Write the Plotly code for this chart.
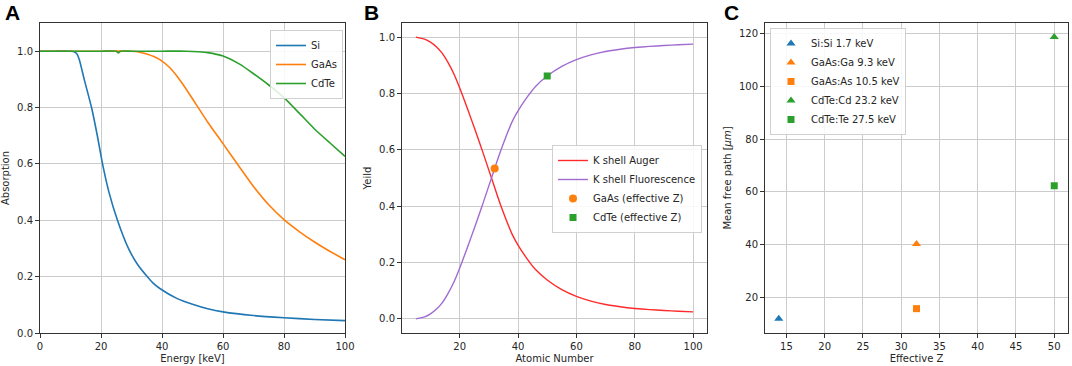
import plotly.graph_objects as go

# ---------------- Panel A: absorption vs energy ----------------
energy_si = [0, 5, 10, 11, 12, 12.9, 14.5, 16.9, 18.8, 20.5, 22.6, 25.4, 29, 32, 35, 37, 39.3, 45, 50, 55,
             60, 70, 80, 90, 100]
absorb_si = [1.0, 1.0, 1.0, 0.999, 0.992, 0.97, 0.9, 0.8, 0.7, 0.6, 0.5, 0.4, 0.3, 0.243, 0.202, 0.178,
             0.158, 0.122, 0.102, 0.086, 0.075, 0.062, 0.054, 0.048, 0.044]

energy_gaas = [0, 10, 20, 30, 32, 35, 37.5, 40, 42.5, 45, 47.5, 50, 55, 60, 65, 70, 75, 80, 85, 90, 95, 100]
absorb_gaas = [1.0, 1.0, 1.0, 1.0, 0.998, 0.99, 0.98, 0.965, 0.942, 0.91, 0.872, 0.831, 0.748, 0.672,
               0.595, 0.52, 0.455, 0.402, 0.36, 0.323, 0.29, 0.26]

energy_cdte = [0, 10, 20, 25, 25.7, 26.4, 30, 40, 48, 52, 55, 60, 65.6, 70, 75, 80, 85, 90, 95, 100]
absorb_cdte = [1.0, 1.0, 1.0, 1.0, 0.994, 1.0, 1.0, 1.0, 1.0, 0.998, 0.995, 0.983, 0.953, 0.92,
               0.88, 0.835, 0.78, 0.724, 0.675, 0.627]

# ---------------- Panel B: K shell yields ----------------
atomic_z = [5, 8, 10, 12, 14, 16, 18, 20, 22, 24, 26, 28, 30, 32, 34, 36, 38, 40, 43, 46, 50,
            55, 60, 65, 70, 75, 80, 85, 90, 95, 100]
auger_yield = [1.0, 0.993, 0.982, 0.966, 0.943, 0.91, 0.87, 0.82, 0.765, 0.708, 0.65, 0.59,
               0.528, 0.466, 0.405, 0.35, 0.30, 0.262, 0.215, 0.175, 0.138, 0.104, 0.08, 0.063,
               0.051, 0.043, 0.037, 0.033, 0.030, 0.027, 0.025]
fluor_yield = [round(1 - a, 4) for a in auger_yield]

gaas_eff_z = [32]
gaas_eff_yield = [0.534]
cdte_eff_z = [50]
cdte_eff_yield = [0.862]

# ---------------- Panel C: mean free path ----------------
c_labels = ["Si:Si 1.7 keV", "GaAs:Ga 9.3 keV", "GaAs:As 10.5 keV", "CdTe:Cd 23.2 keV", "CdTe:Te 27.5 keV"]
c_eff_z = [14, 32, 32, 50, 50]
c_mfp = [11.8, 40.2, 15.6, 118.8, 62.3]
c_symbols = ["triangle-up", "triangle-up", "square", "triangle-up", "square"]

BLUE = "#1f77b4"
ORANGE = "#ff7f0e"
GREEN = "#2ca02c"
RED = "#ff2a2a"
PURPLE = "#a06cd0"

W, H = 1072, 366
FONT = "DejaVu Sans"
TXT = "#262626"

def px(x):
    return x / W

def py(y):
    return 1 - y / H

y_dom = [py(333), py(23)]

fig = go.Figure()

LINE_SHAPE = dict(shape="spline", smoothing=0.5)

# Panel A traces
fig.add_trace(go.Scatter(x=energy_si, y=absorb_si, mode="lines", name="Si",
                         line=dict(color=BLUE, width=1.6, **LINE_SHAPE), xaxis="x", yaxis="y", legend="legend"))
fig.add_trace(go.Scatter(x=energy_gaas, y=absorb_gaas, mode="lines", name="GaAs",
                         line=dict(color=ORANGE, width=1.6, **LINE_SHAPE), xaxis="x", yaxis="y", legend="legend"))
fig.add_trace(go.Scatter(x=energy_cdte, y=absorb_cdte, mode="lines", name="CdTe",
                         line=dict(color=GREEN, width=1.6, **LINE_SHAPE), xaxis="x", yaxis="y", legend="legend"))

# Panel B traces
fig.add_trace(go.Scatter(x=atomic_z, y=auger_yield, mode="lines", name="K shell Auger",
                         line=dict(color=RED, width=1.4, **LINE_SHAPE), xaxis="x2", yaxis="y2", legend="legend2"))
fig.add_trace(go.Scatter(x=atomic_z, y=fluor_yield, mode="lines", name="K shell Fluorescence",
                         line=dict(color=PURPLE, width=1.4, **LINE_SHAPE), xaxis="x2", yaxis="y2", legend="legend2"))
fig.add_trace(go.Scatter(x=gaas_eff_z, y=gaas_eff_yield, mode="markers", name="GaAs (effective Z)",
                         marker=dict(color=ORANGE, size=8, symbol="circle"),
                         xaxis="x2", yaxis="y2", legend="legend2"))
fig.add_trace(go.Scatter(x=cdte_eff_z, y=cdte_eff_yield, mode="markers", name="CdTe (effective Z)",
                         marker=dict(color=GREEN, size=7, symbol="square"),
                         xaxis="x2", yaxis="y2", legend="legend2"))

# Panel C traces
c_colors = [BLUE, ORANGE, ORANGE, GREEN, GREEN]
c_sizes = [8, 8, 7, 8, 7]
for lab, zx, mfp, sym, col, sz in zip(c_labels, c_eff_z, c_mfp, c_symbols, c_colors, c_sizes):
    fig.add_trace(go.Scatter(x=[zx], y=[mfp], mode="markers", name=lab,
                             marker=dict(color=col, size=sz, symbol=sym),
                             xaxis="x3", yaxis="y3", legend="legend3"))

axis_common = dict(showline=True, mirror=True, linecolor="#333333", linewidth=1,
                   ticks="outside", ticklen=4, tickcolor="#333333", automargin=False,
                   showgrid=True, gridcolor="#cccccc", gridwidth=1, zeroline=False,
                   tickfont=dict(family=FONT, size=10, color=TXT),
                   title_font=dict(family=FONT, size=10, color=TXT))

legend_common = dict(bgcolor="rgba(255,255,255,0.85)", bordercolor="#d0d0d0", borderwidth=1,
                     font=dict(family=FONT, size=10, color=TXT), tracegroupgap=0,
                     itemwidth=30)

fig.update_layout(
    width=W, height=H,
    margin=dict(l=0, r=0, t=0, b=0, autoexpand=False),
    paper_bgcolor="white", plot_bgcolor="white",
    font=dict(family=FONT, size=10, color=TXT),
    xaxis=dict(domain=[px(40), px(345)], range=[0, 100], tickvals=[0, 20, 40, 60, 80, 100],
               title=dict(text="Energy [keV]", standoff=3), anchor="y", **axis_common),
    yaxis=dict(domain=y_dom, range=[0, 1.1], tickvals=[0, 0.2, 0.4, 0.6, 0.8, 1.0], tickformat=".1f",
               title=dict(text="Absorption", standoff=5), anchor="x", **axis_common),
    xaxis2=dict(domain=[px(402), px(707)], range=[0.25, 104.75], tickvals=[20, 40, 60, 80, 100],
                title=dict(text="Atomic Number", standoff=3), anchor="y2", **axis_common),
    yaxis2=dict(domain=y_dom, range=[-0.05, 1.05], tickvals=[0, 0.2, 0.4, 0.6, 0.8, 1.0], tickformat=".1f",
                title=dict(text="Yeild", standoff=5), anchor="x2", **axis_common),
    xaxis3=dict(domain=[px(765), px(1068)], range=[12.2, 51.8], tickvals=[15, 20, 25, 30, 35, 40, 45, 50],
                title=dict(text="Effective Z", standoff=3), anchor="y3", **axis_common),
    yaxis3=dict(domain=y_dom, range=[6.35, 124.15], tickvals=[20, 40, 60, 80, 100, 120],
                title=dict(text="Mean free path [<i>μm</i>]", standoff=5), anchor="x3", **axis_common),
    legend=dict(x=px(343), y=py(30), xanchor="right", yanchor="top", **legend_common),
    legend2=dict(x=px(702), y=py(145), xanchor="right", yanchor="top", **legend_common),
    legend3=dict(x=px(770), y=py(28), xanchor="left", yanchor="top", **legend_common),
    showlegend=True,
)

for letter, xpos in [("A", 3), ("B", 362), ("C", 722)]:
    fig.add_annotation(text=f"<b>{letter}</b>", x=px(xpos), y=py(12), xref="paper", yref="paper",
                       xanchor="left", yanchor="middle", showarrow=False,
                       font=dict(family="Liberation Sans", size=21, color="black"))

# remove the browser's default page margin so the figure sits at the window's corner
fig.write_html("out.html", config={"displayModeBar": False},
               post_script="document.body.style.margin='0';document.body.style.overflow='hidden';")
